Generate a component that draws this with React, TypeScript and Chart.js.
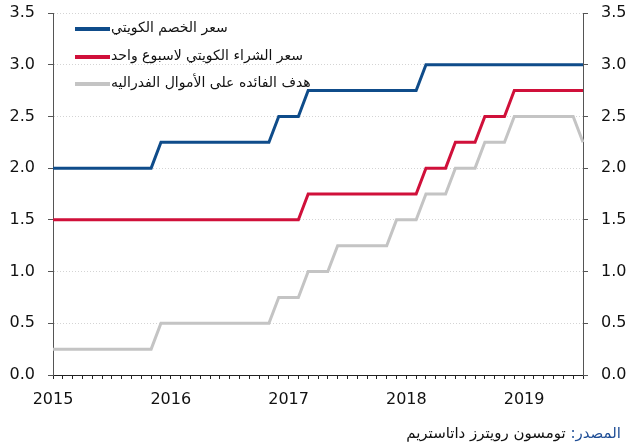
import React, { useEffect, useRef } from "react";
import { Chart, registerables } from "chart.js";

Chart.register(...registerables);

const months: string[] = [
  "2015-01","2015-02","2015-03","2015-04","2015-05","2015-06","2015-07","2015-08","2015-09","2015-10","2015-11","2015-12",
  "2016-01","2016-02","2016-03","2016-04","2016-05","2016-06","2016-07","2016-08","2016-09","2016-10","2016-11","2016-12",
  "2017-01","2017-02","2017-03","2017-04","2017-05","2017-06","2017-07","2017-08","2017-09","2017-10","2017-11","2017-12",
  "2018-01","2018-02","2018-03","2018-04","2018-05","2018-06","2018-07","2018-08","2018-09","2018-10","2018-11","2018-12",
  "2019-01","2019-02","2019-03","2019-04","2019-05","2019-06","2019-07",
];

const kuwaitDiscount: number[] = [
  2, 2, 2, 2, 2, 2, 2, 2, 2, 2, 2, 2.25,
  2.25, 2.25, 2.25, 2.25, 2.25, 2.25, 2.25, 2.25, 2.25, 2.25, 2.25, 2.5,
  2.5, 2.5, 2.75, 2.75, 2.75, 2.75, 2.75, 2.75, 2.75, 2.75, 2.75, 2.75,
  2.75, 2.75, 3, 3, 3, 3, 3, 3, 3, 3, 3, 3,
  3, 3, 3, 3, 3, 3, 3,
];

const kuwaitRepo: number[] = [
  1.5, 1.5, 1.5, 1.5, 1.5, 1.5, 1.5, 1.5, 1.5, 1.5, 1.5, 1.5,
  1.5, 1.5, 1.5, 1.5, 1.5, 1.5, 1.5, 1.5, 1.5, 1.5, 1.5, 1.5,
  1.5, 1.5, 1.75, 1.75, 1.75, 1.75, 1.75, 1.75, 1.75, 1.75, 1.75, 1.75,
  1.75, 1.75, 2, 2, 2, 2.25, 2.25, 2.25, 2.5, 2.5, 2.5, 2.75,
  2.75, 2.75, 2.75, 2.75, 2.75, 2.75, 2.75,
];

const fedTarget: number[] = [
  0.25, 0.25, 0.25, 0.25, 0.25, 0.25, 0.25, 0.25, 0.25, 0.25, 0.25, 0.5,
  0.5, 0.5, 0.5, 0.5, 0.5, 0.5, 0.5, 0.5, 0.5, 0.5, 0.5, 0.75,
  0.75, 0.75, 1, 1, 1, 1.25, 1.25, 1.25, 1.25, 1.25, 1.25, 1.5,
  1.5, 1.5, 1.75, 1.75, 1.75, 2, 2, 2, 2.25, 2.25, 2.25, 2.5,
  2.5, 2.5, 2.5, 2.5, 2.5, 2.5, 2.25,
];

const seriesNames: string[] = [
  "سعر الخصم الكويتي",
  "سعر الشراء الكويتي لاسبوع واحد",
  "هدف الفائده على الأموال الفدراليه",
];
const seriesColors: string[] = ["#0f4c8a", "#d0103a", "#c4c4c4"];

const sourceLabel = "المصدر:";
const sourceText = "تومسون رويترز داتاستريم";

const W = 633;
const H = 445;
const tickFont = { family: "DejaVu Sans", size: 16 };

const overlayPlugin = {
  id: "overlay",
  afterDraw(chart: any) {
    const ctx = chart.ctx as CanvasRenderingContext2D;
    ctx.save();
    const rows = [29, 57, 84];
    seriesNames.forEach((name, i) => {
      const y = rows[i];
      ctx.strokeStyle = seriesColors[i];
      ctx.lineWidth = 4;
      ctx.lineCap = "butt";
      ctx.beginPath();
      ctx.moveTo(75, y);
      ctx.lineTo(110, y);
      ctx.stroke();
      ctx.fillStyle = "#111";
      ctx.font = "14px 'DejaVu Sans'";
      ctx.direction = "rtl";
      ctx.textAlign = "left";
      ctx.textBaseline = "alphabetic";
      ctx.fillText(name, 111, y + 3);
    });
    ctx.font = "15px 'DejaVu Sans'";
    ctx.direction = "rtl";
    ctx.textAlign = "right";
    ctx.textBaseline = "alphabetic";
    const right = 621;
    ctx.fillStyle = "#1f4e96";
    ctx.fillText(sourceLabel, right, 438);
    const w = ctx.measureText(sourceLabel + " ").width;
    ctx.fillStyle = "#111";
    ctx.fillText(sourceText, right - w, 438);
    ctx.restore();
  },
};

const fitY = (width: number) => (s: any) => {
  s.width = width;
  s.paddingTop = 0;
  s.paddingBottom = 0;
};

export default function App() {
  const ref = useRef<HTMLCanvasElement | null>(null);
  useEffect(() => {
    document.body.style.margin = "0";
    const canvas = ref.current!;
    const chart = new Chart(canvas, {
      type: "line",
      data: {
        labels: months,
        datasets: [
          { label: seriesNames[0], data: kuwaitDiscount, borderColor: seriesColors[0], borderWidth: 3, pointRadius: 0, tension: 0, fill: false, yAxisID: "y" },
          { label: seriesNames[1], data: kuwaitRepo, borderColor: seriesColors[1], borderWidth: 3, pointRadius: 0, tension: 0, fill: false, yAxisID: "y" },
          { label: seriesNames[2], data: fedTarget, borderColor: seriesColors[2], borderWidth: 3, pointRadius: 0, tension: 0, fill: false, yAxisID: "y" },
        ],
      },
      options: {
        responsive: false,
        animation: false,
        layout: { padding: { top: 13, left: 0, right: 0, bottom: 0 } },
        plugins: { legend: { display: false }, tooltip: { enabled: false } },
        scales: {
          x: {
            type: "category",
            offset: false,
            border: { display: true, color: "#222", width: 1 },
            grid: { display: true, drawOnChartArea: false, drawTicks: true, tickLength: 4, color: "#222", tickColor: "#222" },
            ticks: {
              autoSkip: false,
              maxRotation: 0,
              padding: 11,
              color: "#111",
              font: tickFont,
              callback: (_v: any, i: number) => (months[i].endsWith("-01") ? months[i].slice(0, 4) : ""),
            },
            afterFit: (s: any) => { s.height = 70; },
          },
          y: {
            position: "left",
            min: 0,
            max: 3.5,
            border: { display: true, color: "#555", width: 1, dash: [1, 2] },
            grid: { color: "#d4d4d4", tickLength: 5, tickColor: "#555", tickBorderDash: [] },
            ticks: { stepSize: 0.5, padding: 13, color: "#111", font: tickFont, callback: (v: any) => Number(v).toFixed(1) },
            afterFit: fitY(53),
          },
          y2: {
            position: "right",
            min: 0,
            max: 3.5,
            border: { display: true, color: "#555", width: 1 },
            grid: { drawOnChartArea: false, tickLength: 5, tickColor: "#555" },
            ticks: { stepSize: 0.5, padding: 13, color: "#111", font: tickFont, callback: (v: any) => Number(v).toFixed(1) },
            afterFit: fitY(50),
          },
        },
      },
      plugins: [overlayPlugin],
    } as any);
    return () => chart.destroy();
  }, []);
  return <canvas ref={ref} width={W} height={H} style={{ display: "block" }} />;
}
